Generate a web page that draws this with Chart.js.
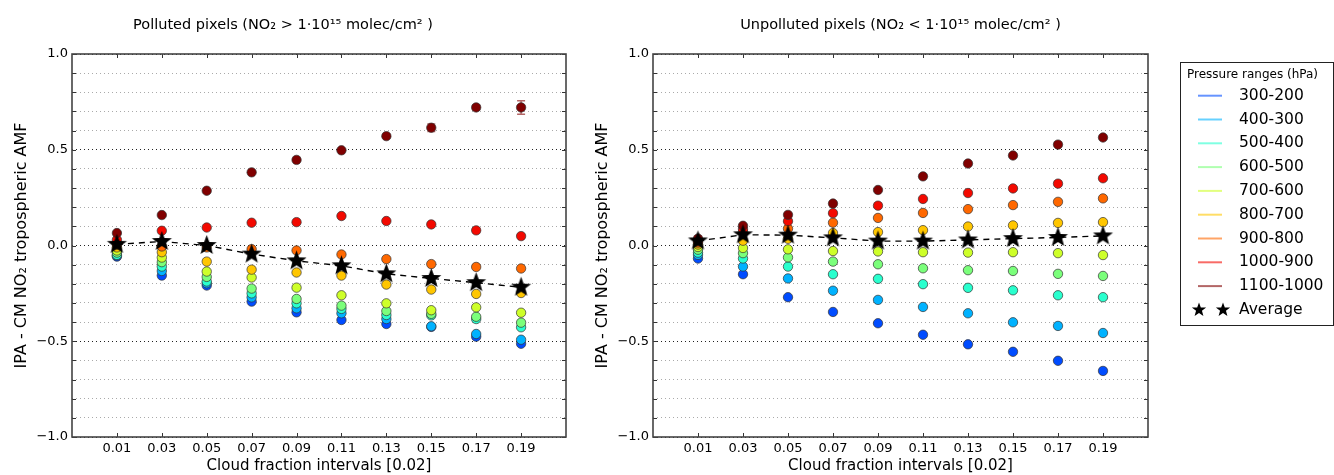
<!DOCTYPE html>
<html>
<head>
<meta charset="utf-8">
<script src="https://cdn.jsdelivr.net/npm/chart.js@4.4.1/dist/chart.umd.min.js"></script>
<style>
  body { margin: 0; background: #fff; }
  .panel { position: absolute; top: 0; }
</style>
</head>
<body>
<div class="panel" style="left:0"><canvas id="polluted" width="582" height="475"></canvas></div>
<div class="panel" style="left:581px"><canvas id="unpolluted" width="753" height="475"></canvas></div>
<script>
// categories (cloud fraction bins) and legend labels
const cloudFraction = [0.01, 0.03, 0.05, 0.07, 0.09, 0.11, 0.13, 0.15, 0.17, 0.19];
const pressureRanges = ['300-200', '400-300', '500-400', '600-500', '700-600',
                        '800-700', '900-800', '1000-900', '1100-1000'];
const rangeColors = ['#004cff', '#00b2ff', '#29ffce', '#7bff7b', '#ceff29',
                     '#ffc600', '#ff6800', '#f30900', '#800000'];

// polluted pixels, one array per pressure range
const pol300_200  = [-0.058, -0.157, -0.209, -0.293, -0.349, -0.389, -0.410, -0.425, -0.476, -0.513];
const pol400_300  = [-0.052, -0.133, -0.197, -0.271, -0.328, -0.354, -0.384, -0.422, -0.462, -0.492];
const pol500_400  = [-0.049, -0.110, -0.188, -0.250, -0.302, -0.331, -0.363, -0.365, -0.384, -0.427];
const pol600_500  = [-0.037, -0.087, -0.164, -0.225, -0.279, -0.314, -0.342, -0.357, -0.372, -0.403];
const pol700_600  = [-0.026, -0.063, -0.136, -0.167, -0.220, -0.260, -0.302, -0.338, -0.323, -0.351];
const pol800_700  = [-0.010, -0.035, -0.084, -0.126, -0.141, -0.157, -0.204, -0.230, -0.253, -0.248];
const pol900_800  = [0.005, -0.005, -0.010, -0.019, -0.026, -0.047, -0.071, -0.097, -0.112, -0.120];
const pol1000_900 = [0.030, 0.077, 0.094, 0.119, 0.122, 0.154, 0.128, 0.110, 0.079, 0.049];
const pol1100_1000 = [0.065, 0.159, 0.286, 0.382, 0.447, 0.497, 0.571, 0.615, 0.721, 0.721];
const polAverage  = [0.006, 0.021, 0.000, -0.045, -0.080, -0.106, -0.148, -0.172, -0.194, -0.218];
// error bars seen on the two top series
const polErr1000_900  = [0, 0, 0, 0, 0, 0, 0, 0, 0.012, 0.010];
const polErr1100_1000 = [0, 0, 0, 0, 0, 0.006, 0.010, 0.020, 0.013, 0.035];

// unpolluted pixels
const unp300_200  = [-0.068, -0.150, -0.270, -0.347, -0.406, -0.466, -0.516, -0.555, -0.602, -0.655];
const unp400_300  = [-0.049, -0.110, -0.172, -0.236, -0.284, -0.321, -0.354, -0.401, -0.420, -0.457];
const unp500_400  = [-0.037, -0.068, -0.110, -0.150, -0.174, -0.202, -0.221, -0.234, -0.260, -0.270];
const unp600_500  = [-0.022, -0.040, -0.062, -0.084, -0.098, -0.119, -0.129, -0.133, -0.148, -0.159];
const unp700_600  = [-0.008, -0.013, -0.020, -0.029, -0.031, -0.035, -0.037, -0.035, -0.040, -0.050];
const unp800_700  = [0.005, 0.025, 0.035, 0.065, 0.070, 0.080, 0.099, 0.105, 0.118, 0.122];
const unp900_800  = [0.015, 0.072, 0.088, 0.119, 0.144, 0.170, 0.190, 0.211, 0.228, 0.246];
const unp1000_900 = [0.025, 0.086, 0.127, 0.169, 0.208, 0.243, 0.274, 0.298, 0.323, 0.351];
const unp1100_1000 = [0.036, 0.103, 0.160, 0.219, 0.290, 0.361, 0.428, 0.470, 0.527, 0.564];
const unpAverage  = [0.024, 0.056, 0.054, 0.040, 0.023, 0.023, 0.029, 0.036, 0.042, 0.050];

const yTicks = [-1.0, -0.5, 0.0, 0.5, 1.0];

const FONT = "'DejaVu Sans', sans-serif";
Chart.defaults.font.family = FONT;
Chart.defaults.color = '#000';

// filled five point star used as marker
function starPath(ctx, cx, cy, R, r) {
    ctx.beginPath();
    for (let k = 0; k < 10; k++) {
        const a = -Math.PI / 2 + k * Math.PI / 5;
        const rad = k % 2 ? r : R;
        ctx[k ? 'lineTo' : 'moveTo'](cx + rad * Math.cos(a), cy + rad * Math.sin(a));
    }
    ctx.closePath();
}
function makeStar(R) {
    const c = document.createElement('canvas');
    c.width = c.height = Math.ceil(R * 2 + 2);
    const g = c.getContext('2d');
    starPath(g, c.width / 2, c.height / 2, R, R * 0.42);
    g.fillStyle = '#000';
    g.fill();
    return c;
}
const starImg = makeStar(10.5);

function hexA(hex, a) {
    const n = parseInt(hex.slice(1), 16);
    return `rgba(${n >> 16},${(n >> 8) & 255},${n & 255},${a})`;
}

function buildDatasets(series, average, errors) {
    const sets = series.map((vals, i) => ({
        label: pressureRanges[i],
        data: cloudFraction.map((x, j) => ({x: x, y: vals[j]})),
        errors: errors[i] || null,
        backgroundColor: rangeColors[i],
        borderColor: '#333',
        borderWidth: 0.7,
        pointRadius: 4.7,
        pointHoverRadius: 4.7,
        order: series.length - i
    }));
    sets.push({
        label: 'Average',
        data: cloudFraction.map((x, j) => ({x: x, y: average[j]})),
        showLine: true,
        borderColor: '#000',
        borderWidth: 1.4,
        borderDash: [6, 5],
        pointStyle: starImg,
        pointRadius: 10,
        order: 0
    });
    return sets;
}

// error bars, frame and inward ticks
const decorPlugin = {
    id: 'decor',
    beforeDatasetsDraw(chart) {
        const {ctx} = chart;
        const xs = chart.scales.x, ys = chart.scales.y;
        chart.data.datasets.forEach(ds => {
            if (!ds.errors) return;
            ctx.save();
            ctx.strokeStyle = hexA(ds.backgroundColor, 0.6);
            ctx.lineWidth = 1.5;
            ds.data.forEach((p, j) => {
                const e = ds.errors[j];
                if (!e) return;
                const x = xs.getPixelForValue(p.x);
                const y1 = ys.getPixelForValue(p.y + e), y2 = ys.getPixelForValue(p.y - e);
                ctx.beginPath();
                ctx.moveTo(x, y1); ctx.lineTo(x, y2);
                ctx.moveTo(x - 4, y1); ctx.lineTo(x + 4, y1);
                ctx.moveTo(x - 4, y2); ctx.lineTo(x + 4, y2);
                ctx.stroke();
            });
            ctx.restore();
        });
    },
    afterDraw(chart) {
        const {ctx, chartArea: a} = chart;
        const xs = chart.scales.x, ys = chart.scales.y;
        ctx.save();
        ctx.strokeStyle = '#333';
        ctx.lineWidth = 1;
        ctx.beginPath();
        cloudFraction.forEach(v => {
            const x = Math.round(xs.getPixelForValue(v)) + 0.5;
            ctx.moveTo(x, a.bottom); ctx.lineTo(x, a.bottom - 4);
            ctx.moveTo(x, a.top); ctx.lineTo(x, a.top + 4);
        });
        for (let k = -10; k <= 10; k++) {
            const y = Math.round(ys.getPixelForValue(k / 10)) + 0.5;
            ctx.moveTo(a.left, y); ctx.lineTo(a.left + 4, y);
            ctx.moveTo(a.right, y); ctx.lineTo(a.right - 4, y);
        }
        ctx.stroke();
        ctx.strokeStyle = '#444';
        ctx.lineWidth = 1.6;
        ctx.strokeRect(a.left, a.top, a.right - a.left, a.bottom - a.top);
        ctx.restore();
    }
};

function isMajor(v) {
    return yTicks.some(t => Math.abs(t - v) < 1e-6);
}

function makeOptions(title, titleFull, padRight) {
    return {
        responsive: false,
        animation: false,
        layout: {padding: {left: 0, right: padRight, top: 0, bottom: 0}},
        plugins: {
            legend: {display: false},
            tooltip: {enabled: false},
            title: {
                display: true,
                text: title,
                fullSize: titleFull,
                font: {size: 14.5, weight: 'normal'},
                padding: {top: 17, bottom: 19.6}
            }
        },
        scales: {
            x: {
                type: 'linear',
                min: -0.01,
                max: 0.21,
                afterBuildTicks: s => { s.ticks = cloudFraction.map(v => ({value: v})); },
                afterFit: s => { s.height = 38; },
                grid: {display: false, drawTicks: false},
                border: {display: false},
                ticks: {
                    autoSkip: false,
                    maxRotation: 0,
                    padding: 4,
                    font: {size: 13},
                    callback: v => v.toFixed(2)
                },
                title: {
                    display: true,
                    text: 'Cloud fraction intervals [0.02]',
                    font: {size: 15},
                    padding: {top: 0, bottom: 0}
                }
            },
            y: {
                min: -1,
                max: 1,
                afterFit: s => { s.width = 72; },
                border: {display: false, dash: [1, 3]},
                grid: {
                    drawTicks: false,
                    color: c => isMajor(c.tick.value) ? '#222' : '#aaa',
                    lineWidth: 1
                },
                ticks: {
                    stepSize: 0.1,
                    autoSkip: false,
                    padding: 4,
                    font: {size: 13},
                    callback: v => isMajor(v) ? (Math.abs(v) < 1e-6 ? '0.0' : v.toFixed(1).replace('-', '\u2212')) : ''
                },
                title: {
                    display: true,
                    text: 'IPA - CM NO\u2082 tropospheric AMF',
                    font: {size: 16},
                    padding: {top: 12, bottom: 0}
                }
            }
        }
    };
}

// legend drawn at the far right of the second canvas
const legendPlugin = {
    id: 'boxLegend',
    afterDraw(chart) {
        const {ctx} = chart;
        const off = 581;
        const left = 1180 - off, right = 1333 - off, top = 62, bottom = 325;
        ctx.save();
        ctx.strokeStyle = '#222';
        ctx.lineWidth = 1;
        ctx.strokeRect(left + 0.5, top + 0.5, right - left, bottom - top);
        ctx.fillStyle = '#000';
        ctx.textBaseline = 'middle';
        ctx.font = "12px " + FONT;
        ctx.fillText('Pressure ranges (hPa)', 1187 - off, 75);
        ctx.font = "15.5px " + FONT;
        const rowH = 23.8;
        pressureRanges.forEach((lab, i) => {
            const y = 95.7 + rowH * i;
            ctx.strokeStyle = hexA(rangeColors[i], 0.6);
            ctx.lineWidth = 2;
            ctx.beginPath();
            ctx.moveTo(1198 - off, y); ctx.lineTo(1222 - off, y);
            ctx.stroke();
            ctx.fillText(lab, 1239 - off, y);
        });
        const ya = 95.7 + rowH * pressureRanges.length;
        ctx.fillStyle = '#000';
        [1199, 1223].forEach(x => {
            starPath(ctx, x - off, ya, 7.5, 3.1);
            ctx.fill();
        });
        ctx.fillText('Average', 1239 - off, ya);
        ctx.restore();
    }
};

new Chart(document.getElementById('polluted'), {
    type: 'scatter',
    data: {
        datasets: buildDatasets(
            [pol300_200, pol400_300, pol500_400, pol600_500, pol700_600,
             pol800_700, pol900_800, pol1000_900, pol1100_1000],
            polAverage,
            [null, null, null, null, null, null, null, polErr1000_900, polErr1100_1000])
    },
    options: makeOptions('Polluted pixels (NO\u2082 > 1\u00b710\u00b9\u2075 molec/cm\u00b2 )', true, 16),
    plugins: [decorPlugin]
});

new Chart(document.getElementById('unpolluted'), {
    type: 'scatter',
    data: {
        datasets: buildDatasets(
            [unp300_200, unp400_300, unp500_400, unp600_500, unp700_600,
             unp800_700, unp900_800, unp1000_900, unp1100_1000],
            unpAverage,
            [])
    },
    options: makeOptions('Unpolluted pixels (NO\u2082 < 1\u00b710\u00b9\u2075 molec/cm\u00b2 )', false, 186),
    plugins: [decorPlugin, legendPlugin]
});
</script>
</body>
</html>
